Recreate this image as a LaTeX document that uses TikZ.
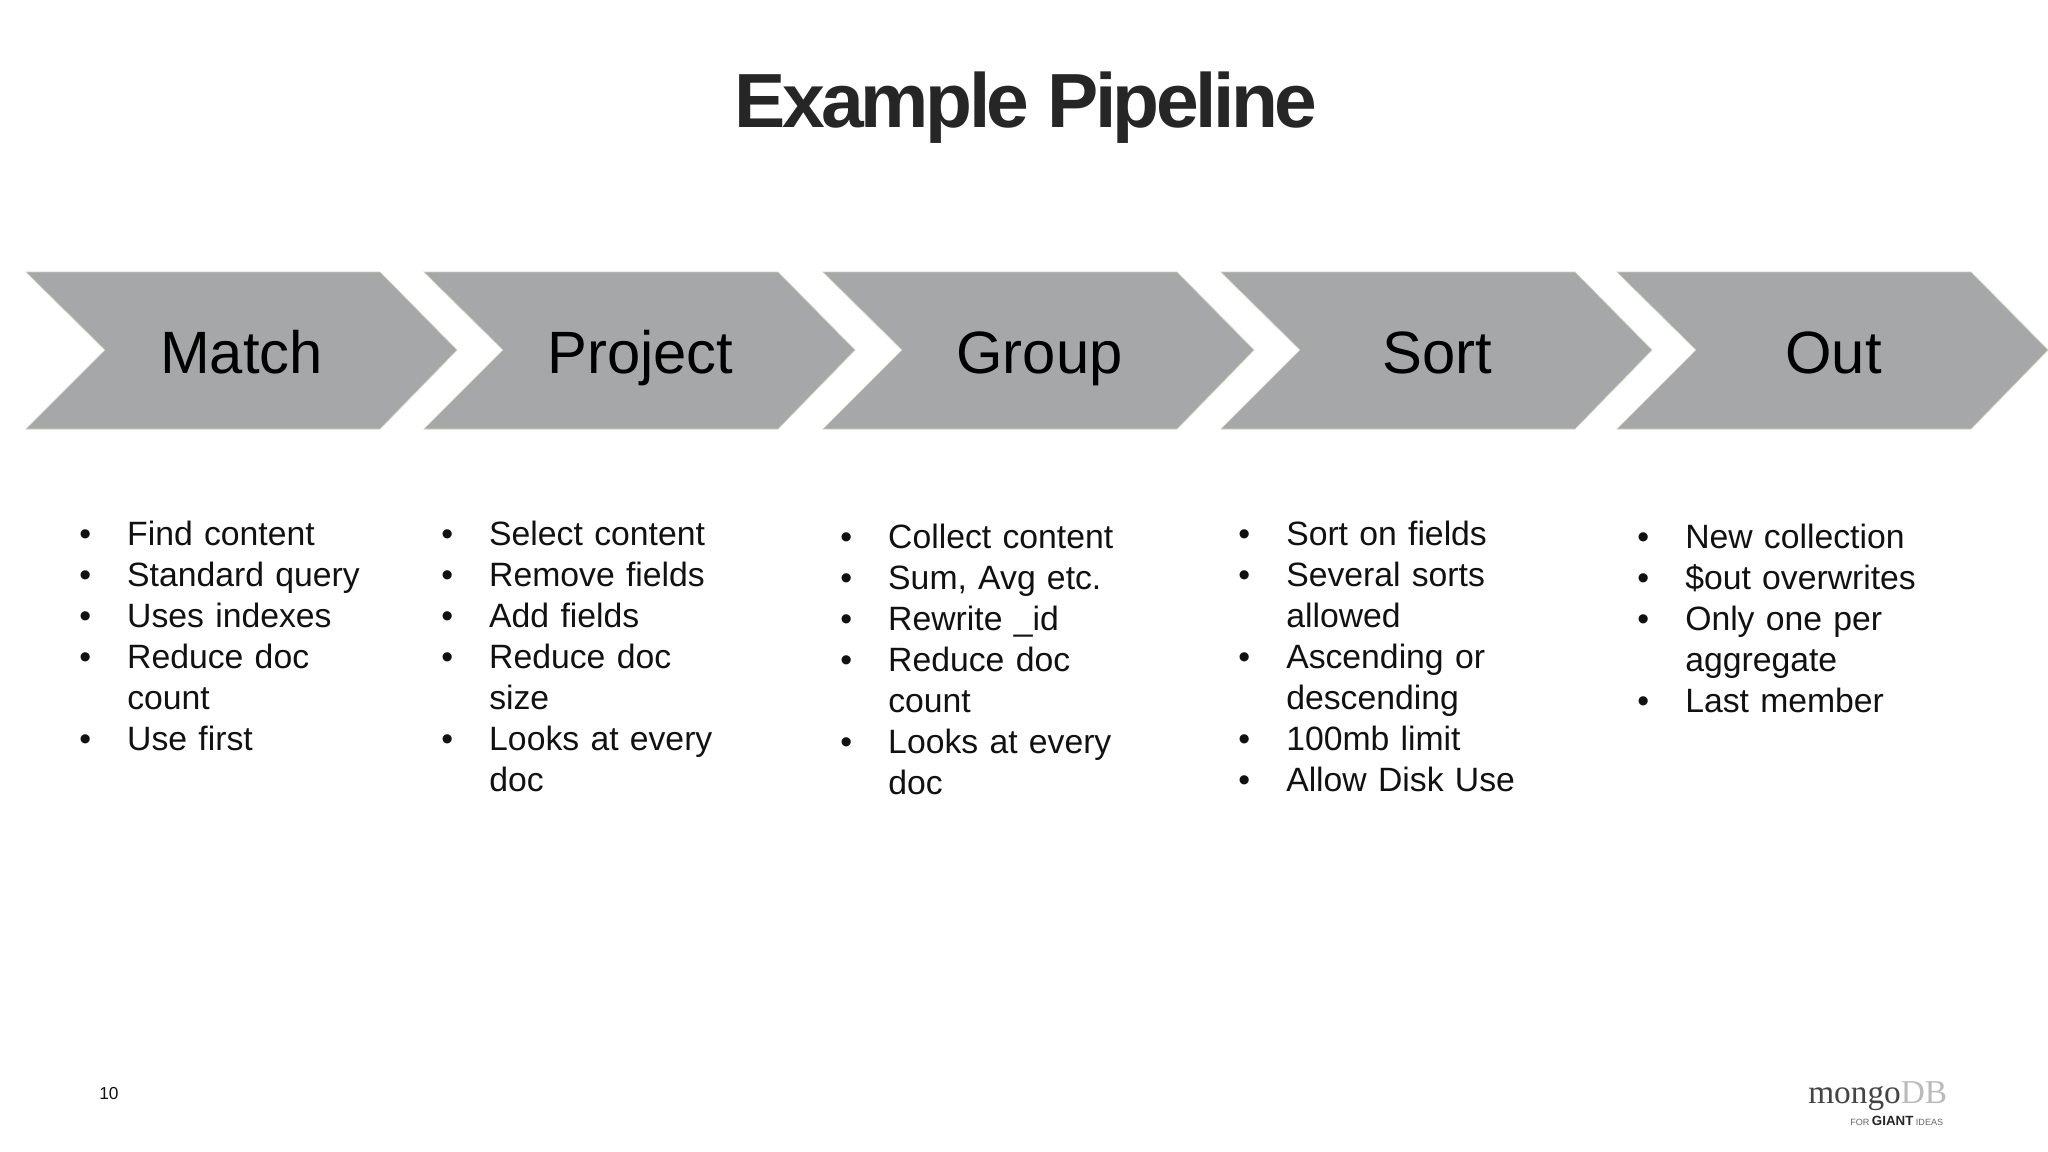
\documentclass[tikz,border=0pt]{standalone}
\usepackage{fontspec}
\setmainfont{Liberation Sans}
\newfontfamily\titlefont[LetterSpace=-4.6]{Liberation Sans Bold}
\newfontfamily\logofont{Liberation Serif}
\definecolor{chevfill}{HTML}{A6A7A8}
\definecolor{chevedge}{HTML}{CDD3B5}
\definecolor{inktext}{HTML}{111111}
\definecolor{titleink}{HTML}{262626}
\newcommand{\bul}[1]{\noindent\hangindent=36pt\hangafter=1\makebox[36pt][l]{\textbullet}#1\par}
\tikzset{
  x=0.75pt,y=-0.75pt,
  chev/.style={fill=chevfill,draw=chevedge,line width=0.5pt,line join=miter},
  chevlabel/.style={inner sep=0pt,font=\fontsize{44.8}{50}\selectfont,text=black,anchor=base},
  bullets/.style={inner sep=0pt,anchor=base west,text width=300pt,text=inktext,
    font=\fontsize{25.3}{30.8}\selectfont,align=left},
}
\begin{document}
\begin{tikzpicture}
\useasboundingbox (0,0) rectangle (2048,1152);
\fill[white] (0,0) rectangle (2048,1152);
\node[inner sep=0pt,anchor=base,text=titleink,font=\fontsize{57.6}{60}\titlefont] (title) at (1026,128) {Example Pipeline};
\foreach \nm/\xa/\lab/\lx in {a/26/Match/241.5,b/424/Project/640.5,c/823/Group/1039.5,d/1221/Sort/1437.5,e/1617/Out/1833.5}{
  \draw[chev] (\xa,272) -- ({\xa+354},272) -- ({\xa+431},350) -- ({\xa+354},429) -- (\xa,429) -- ({\xa+79},350) -- cycle;
  \node[chevlabel] (lab\nm) at (\lx,373) {\lab};
}
\node[bullets] (lista) at (79,545) {\bul{Find content}\bul{Standard query}\bul{Uses indexes}\bul{Reduce doc\newline count}\bul{Use first}};
\node[bullets] (listb) at (441,545) {\bul{Select content}\bul{Remove fields}\bul{Add fields}\bul{Reduce doc\newline size}\bul{Looks at every\newline doc}};
\node[bullets] (listc) at (840,548) {\bul{Collect content}\bul{Sum, Avg etc.}\bul{Rewrite \_id}\bul{Reduce doc\newline count}\bul{Looks at every\newline doc}};
\node[bullets] (listd) at (1238,545) {\bul{Sort on fields}\bul{Several sorts\newline allowed}\bul{Ascending or\newline descending}\bul{100mb limit}\bul{Allow Disk Use}};
\node[bullets] (liste) at (1637,548) {\bul{New collection}\bul{\$out overwrites}\bul{Only one per\newline aggregate}\bul{Last member}};
\node[inner sep=0pt,anchor=base west,text=inktext,font=\fontsize{13}{15}\selectfont] (pageno) at (99,1099) {10};
\node[inner sep=0pt,anchor=base west,font=\fontsize{25}{30}\logofont] (logoa) at (1808,1103) {\textcolor[HTML]{444444}{mongo}\textcolor[HTML]{BBBBBB}{DB}};
\node[inner sep=0pt,anchor=base west,text=black!60,font=\fontsize{6.8}{10}\selectfont] (logob) at (1850,1125) {FOR \textcolor{black!85}{\fontsize{10}{10}\selectfont\bfseries GIANT} IDEAS};
\end{tikzpicture}
\end{document}
